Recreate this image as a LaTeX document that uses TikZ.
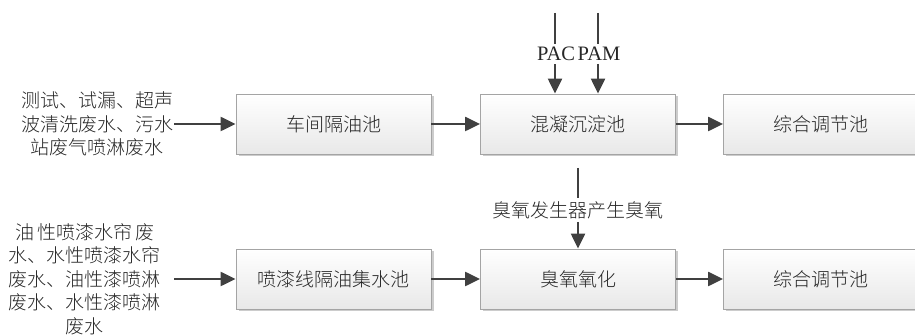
\documentclass[tikz,border=0pt]{standalone}
\usepackage{fontspec}
\setmainfont{Liberation Serif}
\newfontfamily\cjk{Noto Sans CJK SC}[UprightFont=* Light]
\usepackage{xcolor}
\usepackage{tikz}
\usetikzlibrary{arrows.meta,shadows}
\definecolor{flowgray}{HTML}{404040}
\definecolor{edgegray}{HTML}{A4A4A4}

\begin{document}
\begin{tikzpicture}[x=1pt,y=-1pt,>={Triangle[length=15pt,width=14pt]},
  tank/.style={draw=edgegray,line width=0.8pt,top color=white,bottom color=black!9,minimum width=195pt,minimum height=60pt,inner sep=0pt,font=\cjk\fontsize{19}{23}\selectfont,text=black!85,drop shadow={shadow xshift=2.5pt,shadow yshift=-2.5pt,opacity=0.2,fill=black}},
  feed/.style={align=center,inner sep=1pt,font=\cjk\fontsize{19}{23.5}\selectfont,text=black!85},
  dose/.style={inner sep=3pt,font=\fontsize{20.5}{22}\selectfont,text=black!85},
  flow/.style={draw=flowgray,line width=2.2pt}]
  \useasboundingbox (0,0) rectangle (915,336);
  % upper line
  \node[feed] (s1) at (97,124) {测试、试漏、超声\\波清洗废水、污水\\站废气喷淋废水};
  \node[tank] (t1) at (333.5,124) {车间隔油池};
  \node[tank] (t2) at (578,124) {混凝沉淀池};
  \node[tank] (t3) at (821,124) {综合调节池};
  % lower line
  \node[feed,inner xsep=13pt] (s2) at (85,279) {\makebox[140pt][s]{油\hfill 性喷漆水帘\hfill 废}\\水、水性喷漆水帘\\废水、油性漆喷淋\\废水、水性漆喷淋\\废水};
  \node[tank] (t4) at (333.5,279) {喷漆线隔油集水池};
  \node[tank] (t5) at (578,279) {臭氧氧化};
  \node[tank] (t6) at (821,279) {综合调节池};
  % dosing
  \coordinate (pac0) at (555,13);
  \coordinate (pam0) at (598,13);
  \coordinate (oz0) at (578,168);
  \node[dose] (pac) at (556,54) {PAC};
  \node[dose] (pam) at (599,54) {PAM};
  \node[feed,inner sep=3pt] (oz) at (578,210) {臭氧发生器产生臭氧};
  \draw[flow,->] (s1) -- (t1);
  \draw[flow,->] (t1) -- (t2);
  \draw[flow,->] (t2) -- (t3);
  \draw[flow,->] (s2) -- (t4);
  \draw[flow,->] (t4) -- (t5);
  \draw[flow,->] (t5) -- (t6);
  \draw[flow] (pac0) -- (pac0 |- pac.north);
  \draw[flow,->] (pac0 |- pac.south) -- (pac0 |- t2.north);
  \draw[flow] (pam0) -- (pam0 |- pam.north);
  \draw[flow,->] (pam0 |- pam.south) -- (pam0 |- t2.north);
  \draw[flow] (oz0) -- (oz);
  \draw[flow,->] (oz) -- (oz |- t5.north);
\end{tikzpicture}
\end{document}
